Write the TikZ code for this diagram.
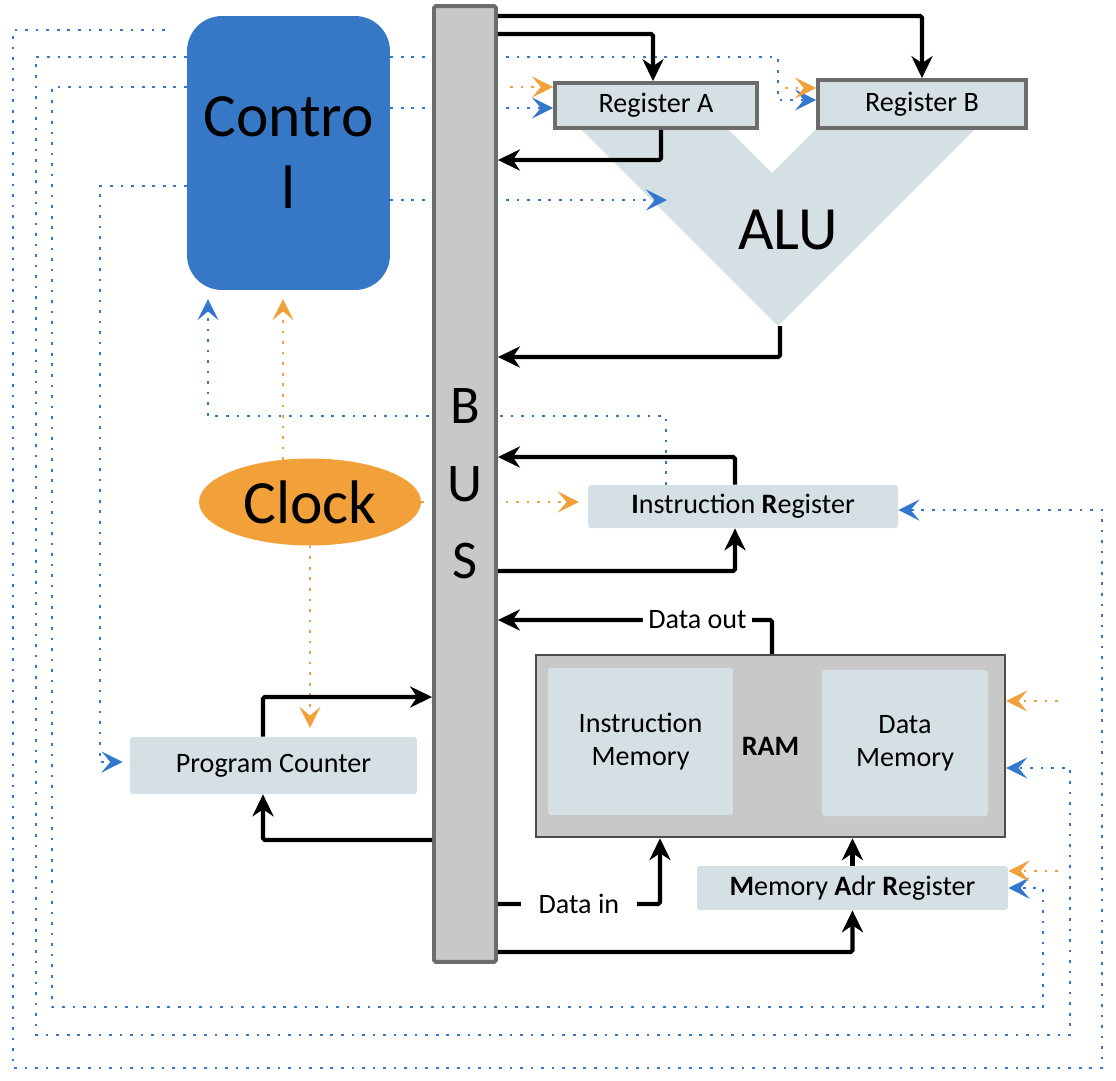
\documentclass[tikz,border=0pt]{standalone}
\usepackage{fontspec}
\setmainfont{Carlito}
\usetikzlibrary{arrows.meta,shapes.geometric,backgrounds}

\definecolor{ctrlblue}{RGB}{54,120,198}
\definecolor{sigblue}{RGB}{52,120,206}
\definecolor{clkorange}{RGB}{241,160,58}
\definecolor{regfill}{RGB}{213,224,228}
\definecolor{busfill}{RGB}{200,200,200}
\definecolor{edgegray}{RGB}{108,108,108}

\begin{document}
\begin{tikzpicture}[
  x=0.02cm, y=-0.02cm,
  font=\fontsize{16}{19}\selectfont,
  big/.style={font=\fontsize{35}{41}\selectfont, align=center},
  reg/.style={draw=edgegray, line width=2.2pt, fill=regfill, inner sep=0pt},
  pane/.style={fill=regfill, rounded corners=1.5pt, inner sep=0pt, align=center},
  arrow/.style={-{Stealth[length=12.5pt,width=12pt,inset=4pt]}, line width=2.3pt, rounded corners=1pt},
  ctl/.style={-{Stealth[length=12pt,width=12pt,inset=5pt]}, sigblue, line width=1.5pt, dash pattern=on 1.5pt off 4.5pt},
  clk/.style={ctl, clkorange},
  lab/.style={fill=white, inner sep=3pt}
]
\useasboundingbox (0,0) rectangle (1116,1080);

% --- Control unit and bus ----------------------------------------------------
\node[big, fill=ctrlblue, rounded corners=0.7cm, minimum width=4.06cm, minimum height=5.48cm] (ctrl) at (288.5,153) {Contro\\l};
\node[draw=edgegray, line width=2.2pt, fill=busfill, rounded corners=1pt, minimum width=1.24cm, minimum height=19.12cm,
      align=center, font=\fontsize{31}{44}\selectfont] (bus) at (465,484) {B\\U\\S};

% --- ALU with its registers --------------------------------------------------
\node[reg, minimum width=4.04cm, minimum height=0.9cm] (regA) at (656,105.5) {Register A};
\node[reg, minimum width=4.16cm, minimum height=0.96cm] (regB) at (922,104) {Register B};
\node[big] (alu) at (788,230) {ALU};
\coordinate (aluin) at (667,200);
\coordinate (alubot) at (780,326);

% --- Registers, clock and memory ---------------------------------------------
\node[pane, minimum width=6.2cm, minimum height=0.86cm] (ir) at (743,506.5) {\textbf{I}nstruction \textbf{R}egister};
\node[pane, minimum width=5.74cm, minimum height=1.14cm] (pc) at (273.5,765.5) {Program Counter};
\node[ellipse, fill=clkorange, minimum width=4.44cm, minimum height=1.74cm, big] (clock) at (310,502) {Clock};

\node[draw=black!70, line width=1.4pt, fill=busfill, minimum width=9.38cm, minimum height=3.64cm] (ram) at (770.5,746) {\textbf{RAM}};
\node[pane, minimum width=3.7cm, minimum height=2.94cm] (imem) at (640.5,741.5) {Instruction\\Memory};
\node[pane, minimum width=3.32cm, minimum height=2.92cm] (dmem) at (905,743) {Data\\Memory};
\node[pane, minimum width=6.22cm, minimum height=0.88cm] (mar) at (852.5,888) {\textbf{M}emory \textbf{A}dr \textbf{R}egister};

% --- Signal lines (behind the boxes) -----------------------------------------
\begin{pgfonlayer}{background}
\fill[regfill] (580,128) -- (727,128) -- (772,173) -- (817,128) -- (976,128) -- (778,326) -- cycle;

\coordinate (c30) at (165,30);
\draw[ctl] (ctrl.east |- 0,57) -| (778,100) -- (regB.west |- 0,100);
\draw[ctl] (ctrl.east |- 0,108) -- (regA.west |- 0,108);
\draw[ctl] (ctrl.east |- 0,200) -- (aluin);
\draw[ctl] (c30) -| (13,1068) -| (1102,510) -- (ir.east |- 0,510);
\draw[ctl] (ctrl.west |- 0,57) -| (36,1035) -| (1070,768) -- (ram.east |- 0,768);
\draw[ctl] (ctrl.west |- 0,87) -| (52,1007) -| (1043,888) -- (mar.east |- 0,888);
\draw[ctl, shorten >=4pt] (ctrl.west |- 0,186) -| (100,762) -- (pc.west |- 0,762);
\draw[ctl, shorten >=5pt] (ir.north -| 666,0) |- (208,416) -- (ctrl.south -| 208,0);

\coordinate (oA) at (510,87);
\coordinate (oB) at (785,88);
\coordinate (oR) at (1058,701);
\coordinate (oM) at (1058,871);
\draw[clk, shorten >=5pt] (clock.center -| 283,0) -- (ctrl.south -| 283,0);
\draw[clk, shorten >=5pt] (clock.south) -- (clock.south |- pc.north);
\draw[clk, shorten >=5pt] (clock.east) -- (clock.east -| ir.west);
\draw[clk] (oA) -- (regA.west |- oA);
\draw[clk] (oB) -- (regB.west |- oB);
\draw[clk] (oR) -- (ram.east |- oR);
\draw[clk] (oM) -- (mar.east |- oM);
\end{pgfonlayer}

% --- Data paths --------------------------------------------------------------
\draw[arrow] (bus.east |- 0,16) -| (regB.north);
\draw[arrow] (bus.east |- 0,34) -| (regA.north -| 653,0);
\draw[arrow] (regA.south -| 661,0) |- (bus.east |- 0,160);
\draw[arrow] (alubot) |- (bus.east |- 0,357);
\draw[arrow] (ir.north -| 735,0) |- (bus.east |- 0,457);
\draw[arrow] (bus.east |- 0,571) -| (ir.south -| 735,0);
\draw[arrow] (ram.north -| 772,0) |- node[lab, pos=0.636] {Data out} (bus.east |- 0,620);
\draw[arrow] (bus.east |- 0,904) -| node[lab, inner xsep=10pt, pos=0.25] {Data in} (ram.south -| 660,0);
\draw[arrow] (bus.east |- 0,952) -| (mar.south);
\draw[arrow] (mar.north) -- (mar.north |- ram.south);
\draw[arrow] (bus.west |- 0,840) -| (pc.south -| 263,0);
\draw[arrow] (pc.north -| 263,0) |- (bus.west |- 0,697);

\end{tikzpicture}
\end{document}
